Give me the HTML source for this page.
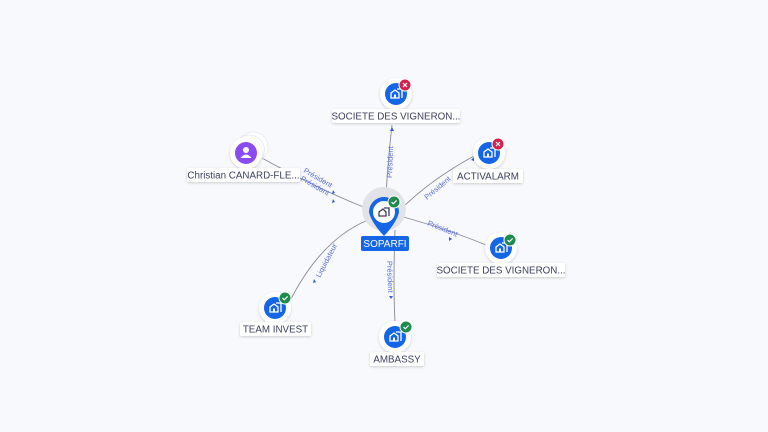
<!DOCTYPE html>
<html><head><style>
html,body{margin:0;padding:0;background:#f8f9fc;}
svg{display:block;font-family:"Liberation Sans",sans-serif;}
.lbl{font-size:9.8px;fill:#3b3f5c;}
.el{font-size:7.5px;fill:#5a6fd8;}
</style></head><body>
<svg width="768" height="432" viewBox="0 0 768 432">
<defs>
<filter id="sh" x="-30%" y="-30%" width="160%" height="160%"><feDropShadow dx="0" dy="1" stdDeviation="1.2" flood-color="#000" flood-opacity="0.18"/></filter>
<g id="bld"><path d="M-5 4 V-1 L-1 -4 L3 -1 V4 Z M1 -5 H6 V4" fill="none" stroke="#fff" stroke-width="1.3"/><rect x="-2" y="0.5" width="2" height="3.5" fill="#fff"/></g>
<g id="ok"><circle r="6" fill="#1e8a4c" stroke="#fff" stroke-width="1"/><path d="M-2.5 0 L-0.7 1.8 L2.6 -1.6" stroke="#fff" stroke-width="1.2" fill="none"/></g>
<g id="ko"><circle r="6" fill="#d6204e" stroke="#fff" stroke-width="1"/><path d="M-2 -2 L2 2 M2 -2 L-2 2" stroke="#fff" stroke-width="1.2"/></g>
<g id="co"><circle r="16" fill="#fff" filter="url(#sh)"/><circle r="11" fill="#1466e6"/><use href="#bld"/></g>
</defs>
<g fill="none" stroke="#858a98" stroke-width="0.9">
<path d="M386 195 Q388 160 392 125"/>
<path d="M400 210 Q430 180 474 156"/>
<path d="M400 216 Q450 230 486 245"/>
<path d="M395 230 Q393 285 395 322"/>
<path d="M368 220 Q320 240 289 303"/>
<path d="M366 208 Q320 190 260 157"/>
</g>
<g fill="#3a5be0">
<path d="M390 131 l2 -4 l2 4z"/><path d="M471 160 l3 -3 l0 4z"/><path d="M452 239 l-3 -2 l0 4z"/>
<path d="M389 296 l2 3 l2 -3z"/><path d="M313 283 l1 -4 l2 3z"/><path d="M335 193 l-2 -3 l-1 4z"/><path d="M335 202 l-2 -3 l-1 4z"/>
</g>
<text class="el" transform="translate(392,178) rotate(-88)">Président</text>
<text class="el" transform="translate(427,200) rotate(-40)">Président</text>
<text class="el" transform="translate(427,225) rotate(22)">Président</text>
<text class="el" transform="translate(387,261) rotate(88)">Président</text>
<text class="el" transform="translate(320,278) rotate(-62)">Liquidateur</text>
<text class="el" transform="translate(303,172) rotate(30)">Président</text>
<text class="el" transform="translate(300,180) rotate(30)">Président</text>
<circle cx="384" cy="209" r="22" fill="#e2e3e8"/>
<path d="M369 212 A15 15 0 1 1 399 212 Q397 222 384 236 Q371 222 369 212Z" fill="#1466e6"/>
<circle cx="384" cy="212" r="11" fill="#fff"/>
<path d="M379 216 V212 L383 209 L386 212 V216 Z M384 208 H389 V216" fill="none" stroke="#3b3f5c" stroke-width="1.3"/>
<use href="#ok" x="394" y="202"/>
<rect x="361" y="236" width="48" height="15" rx="2" fill="#1466e6"/>
<text x="385" y="247" text-anchor="middle" font-size="10" fill="#fff">SOPARFI</text>
<use href="#co" x="396" y="94"/><use href="#ko" x="405" y="85"/>
<rect x="332" y="109" width="128" height="14" rx="2" fill="#fff" filter="url(#sh)"/><text class="lbl" x="396" y="119.5" text-anchor="middle">SOCIETE DES VIGNERON...</text>
<use href="#co" x="489" y="153"/><use href="#ko" x="498" y="144"/>
<rect x="453" y="169" width="70" height="14" rx="2" fill="#fff" filter="url(#sh)"/><text class="lbl" x="488" y="179.5" text-anchor="middle">ACTIVALARM</text>
<use href="#co" x="501" y="248"/><use href="#ok" x="510" y="240"/>
<rect x="437" y="263" width="128" height="14" rx="2" fill="#fff" filter="url(#sh)"/><text class="lbl" x="501" y="273.5" text-anchor="middle">SOCIETE DES VIGNERON...</text>
<use href="#co" x="275" y="308"/><use href="#ok" x="285" y="298"/>
<rect x="240" y="322" width="71" height="14" rx="2" fill="#fff" filter="url(#sh)"/><text class="lbl" x="275.5" y="332.5" text-anchor="middle">TEAM INVEST</text>
<use href="#co" x="395" y="337"/><use href="#ok" x="406" y="327"/>
<rect x="370" y="352" width="54" height="14" rx="2" fill="#fff" filter="url(#sh)"/><text class="lbl" x="397" y="362.5" text-anchor="middle">AMBASSY</text>
<circle cx="253" cy="147" r="15" fill="#fff" stroke="#e6e7ec" stroke-width="0.8"/>
<circle cx="249.5" cy="150" r="15" fill="#fff" stroke="#e6e7ec" stroke-width="0.8"/>
<circle cx="246" cy="153" r="16" fill="#fff" filter="url(#sh)"/>
<circle cx="246" cy="153" r="11" fill="#8a4cf0"/>
<circle cx="246" cy="150" r="3" fill="#fff"/><path d="M240.5 158 Q246 151 251.5 158Z" fill="#fff"/>
<rect x="187" y="168" width="113" height="14" rx="2" fill="#fff" filter="url(#sh)"/><text class="lbl" x="243.5" y="178.5" text-anchor="middle">Christian CANARD-FLE...</text>
</svg>
</body></html>
